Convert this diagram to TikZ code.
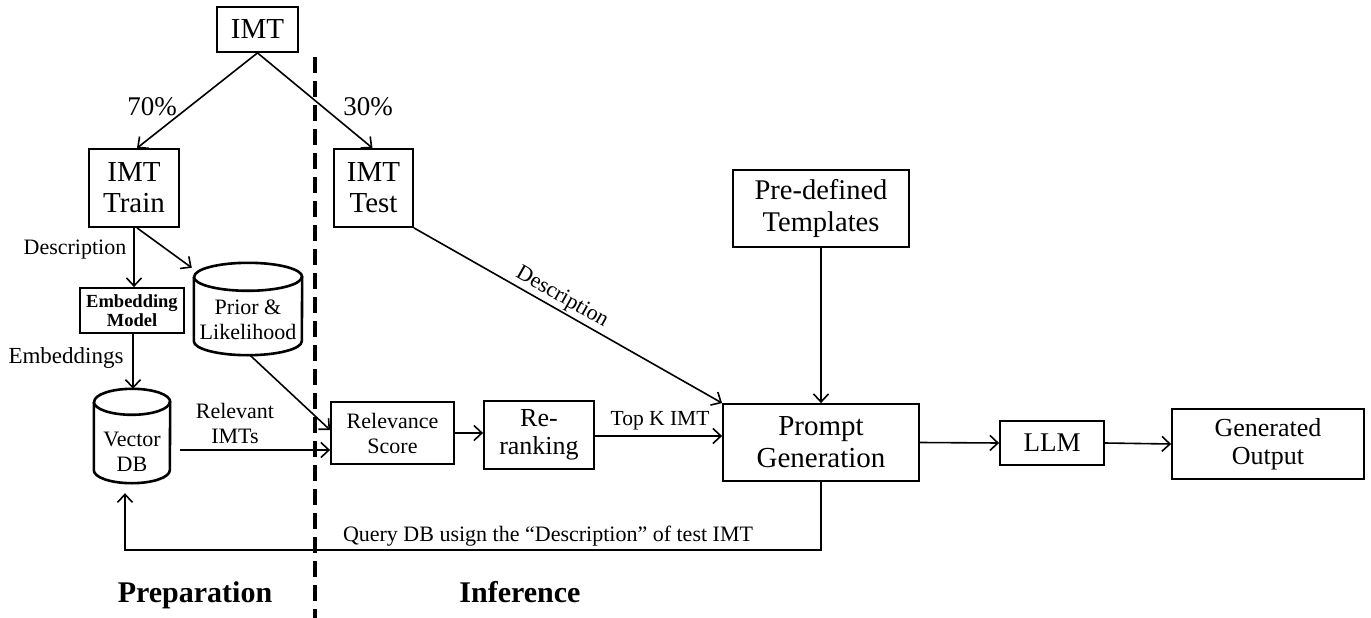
\documentclass[tikz,border=0pt]{standalone}
\usepackage{fontspec}
\setmainfont{Liberation Serif}
\usetikzlibrary{arrows.meta}
\begin{document}
\begin{tikzpicture}[x=1pt,y=-1pt,
  box/.style={draw,line width=1.8pt,inner sep=0pt,align=center},
  cylbox/.style={inner sep=0pt},
  cylline/.style={line width=2.6pt},
  arr/.style={line width=1.6pt,-{Straight Barb[length=8pt,width=15pt,line width=1.6pt]}},
  lbl/.style={inner sep=0pt,align=center},
  fbig/.style={font=\fontsize{29}{31}\selectfont},
  fmid/.style={font=\fontsize{26}{28}\selectfont},
  fsml/.style={font=\fontsize{22}{25}\selectfont},
  fbold/.style={font=\bfseries\fontsize{18.5}{19}\selectfont},
  fhead/.style={font=\bfseries\fontsize{30}{32}\selectfont}]
\useasboundingbox (0,0) rectangle (1371,618);

% nodes
\node[box,fbig,minimum width=81pt,minimum height=45pt] (imt) at (257.5,29.5) {IMT};
\node[box,fbig,minimum width=90pt,minimum height=78pt] (train) at (134,188) {IMT\\Train};
\node[box,fbig,minimum width=79pt,minimum height=78pt] (test) at (373.5,188) {IMT\\Test};
\node[box,fbold,minimum width=104pt,minimum height=45pt] (emb) at (132,310.5) {Embedding\\Model};
\node[cylbox,minimum width=108pt,minimum height=92pt] (prior) at (248,309) {};
\node[lbl,fsml] (priorlbl) at (248,320) {Prior \&\\Likelihood};
\node[cylbox,minimum width=76pt,minimum height=94pt] (vdb) at (132,436) {};
\node[lbl,fsml] (vdblbl) at (132,452) {Vector\\DB};
\node[box,fsml,minimum width=123pt,minimum height=62pt] (rel) at (392.5,433) {Relevance\\Score};
\node[box,fmid,minimum width=110pt,minimum height=68pt] (rerank) at (539,435) {Re-\\ranking};
\node[box,font=\fontsize{28.5}{32}\selectfont,minimum width=176pt,minimum height=77pt] (tmpl) at (821,208.5) {Pre-defined\\Templates};
\node[box,font=\fontsize{29}{32}\selectfont,minimum width=196pt,minimum height=77pt] (prompt) at (821,442.5) {Prompt\\Generation};
\node[box,font=\fontsize{27}{29}\selectfont,minimum width=104pt,minimum height=44pt] (llm) at (1052,443) {LLM};
\node[box,fmid,minimum width=192pt,minimum height=70pt] (gen) at (1268,444) {Generated\\Output};

% cylinders
\foreach \c/\rx/\ry in {prior/54/14,vdb/38/13}{
  \draw[cylline] ([shift={(0,\ry)}]\c.north west) -- ([shift={(0,-\ry)}]\c.south west)
    arc[start angle=180,end angle=360,x radius=\rx pt,y radius=\ry pt]
    -- ([shift={(0,\ry)}]\c.north east)
    arc[start angle=0,end angle=180,x radius=\rx pt,y radius=\ry pt];
  \draw[cylline] ([shift={(0,\ry)}]\c.north west)
    arc[start angle=180,end angle=360,x radius=\rx pt,y radius=\ry pt];
}

% dashed separator
\coordinate (dtop) at (315,57);
\coordinate (dbot) at (315,618);
\draw[line width=4pt,dash pattern=on 16pt off 8pt] (dtop) -- (dbot);

% connectors
\draw[arr] (imt.south) -- ([xshift=3pt]train.north);
\draw[arr] (imt.south) -- ([xshift=-1pt]test.north);
\node[lbl,font=\fontsize{27}{29}\selectfont] (p70) at (152,107) {70\%};
\node[lbl,font=\fontsize{27}{29}\selectfont] (p30) at (368,107) {30\%};

\draw[arr] (train.south) -- (train.south |- emb.north);
\draw[arr] ([xshift=3pt]train.south) -- ([shift={(-2,5)}]prior.north west);
\node[lbl,fsml] (desc1) at (75,250) {Description};

\draw[arr] ([xshift=1pt]emb.south) -- ([xshift=1pt]emb.south |- vdb.north);
\node[lbl,font=\fontsize{23}{25}\selectfont] (embs) at (66,358) {Embeddings};

\draw[arr] ([shift={(10,14)}]vdb.east) -- ([shift={(0,17)}]rel.west);
\node[lbl,fsml] (relimt) at (235,423) {Relevant\\IMTs};

\draw[arr] ([xshift=2pt]prior.south) -- ([shift={(0,-3)}]rel.west);
\draw[arr] (rel.east) -- (rel.east -| rerank.west);
\draw[arr] ([yshift=-1pt]rerank.east) -- ([yshift=-1pt]rerank.east -| prompt.west);
\node[lbl,font=\fontsize{21.5}{24}\selectfont] (topk) at (660,421) {Top K IMT};

\draw[arr] (tmpl.south) -- (prompt.north);
\draw[arr] (test.south east) -- node[lbl,fsml,sloped,above=2pt,pos=0.46] (desc2) {Description} (prompt.north west);

\draw[arr] (prompt.east) -- (llm.west);
\draw[arr] (llm.east) -- (gen.west);

\draw[arr] (prompt.south) -- ++(0,68) coordinate (qcorner) -| ([shift={(-7,10)}]vdb.south);
\node[lbl,fsml] (qlbl) at (548,536) {Query DB usign the “Description” of test IMT};

\node[lbl,fhead,anchor=base] (prep) at (195,602) {Preparation};
\node[lbl,fhead,anchor=base] (infer) at (520,602) {Inference};
\end{tikzpicture}
\end{document}
